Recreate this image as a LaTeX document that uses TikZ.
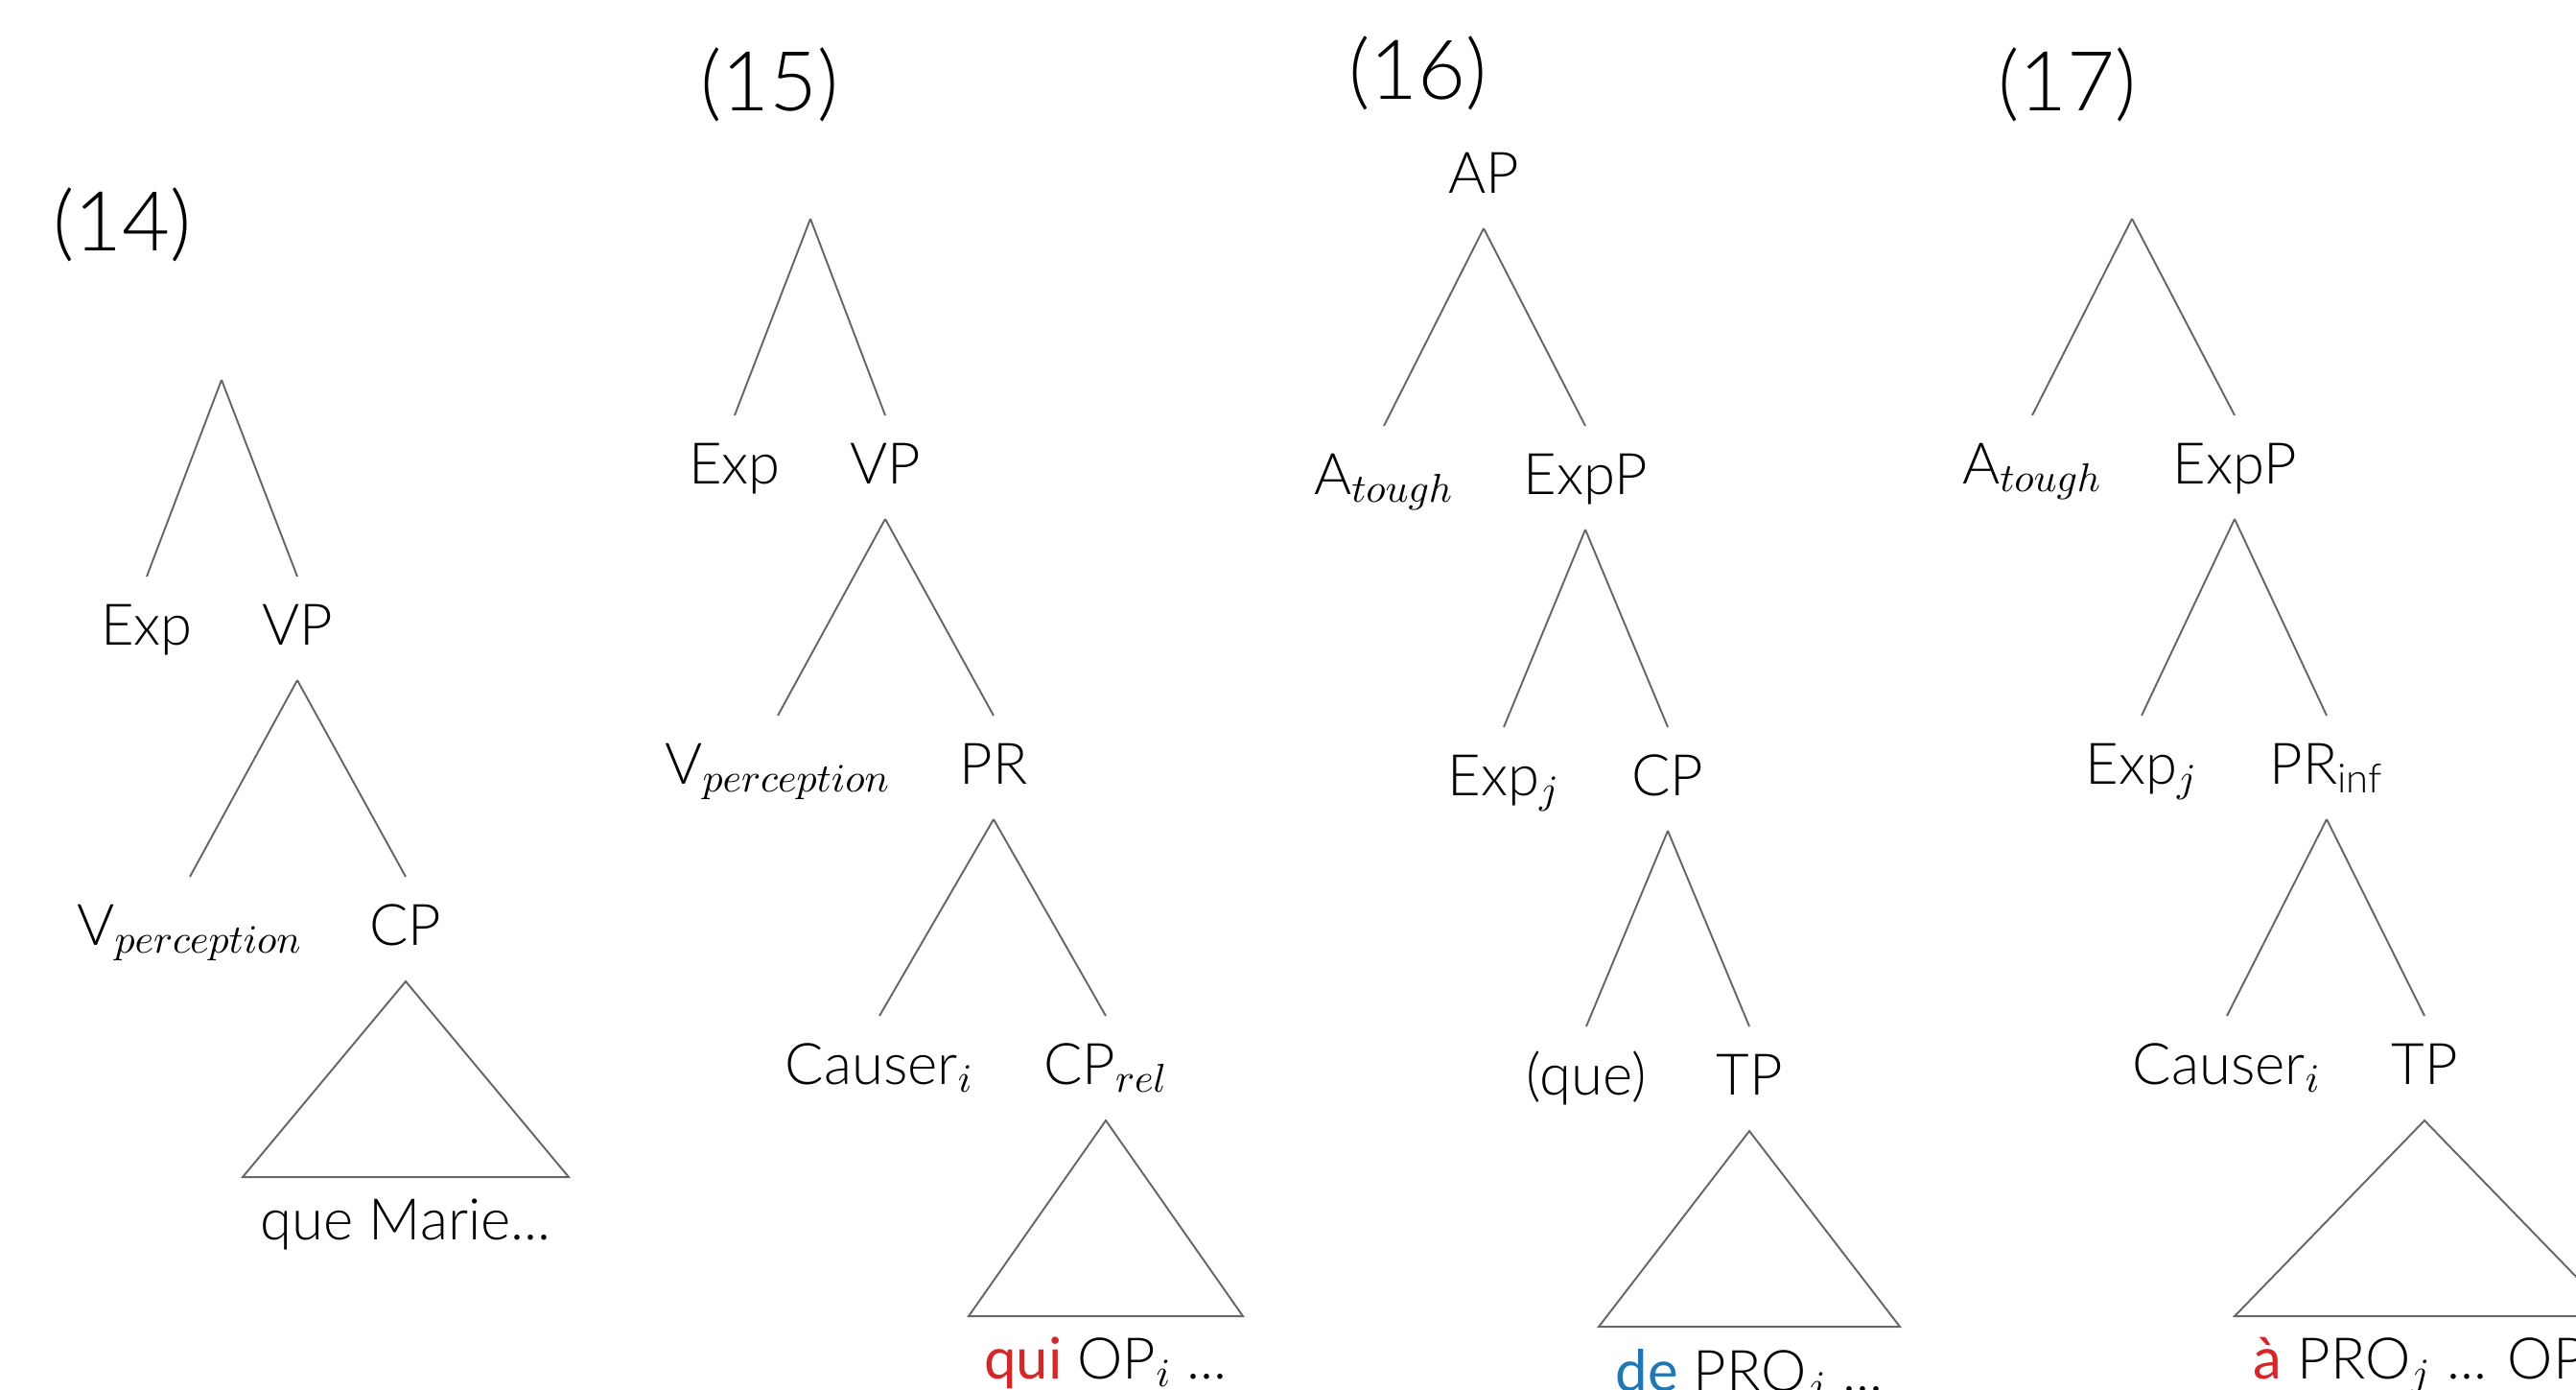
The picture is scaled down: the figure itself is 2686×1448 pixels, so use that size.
\RequirePackage{fix-cm}
\documentclass[tikz,border=0pt]{standalone}
\usepackage{fontspec}
\setmainfont{Lato Light}
\newfontfamily\latoreg{Lato}
\definecolor{redq}{HTML}{D62728}
\definecolor{blued}{HTML}{1F77B4}
\tikzset{
  lbl/.style={anchor=base, inner sep=0pt, font=\fontsize{17}{20}\selectfont},
  leaf/.style={lbl},
  num/.style={anchor=base west, inner sep=0pt, font=\fontsize{24.5}{29}\selectfont},
  edge/.style={draw=black!60, line width=0.55pt},
}
\newcommand\tedge[2]{\draw[edge] ([yshift=-0.37cm]#1.base) -- ([yshift=0.71cm]#2.base);}
\newcommand\redge[2]{\draw[edge] (#1) -- ([yshift=0.71cm]#2.base);}
\newcommand\ttri[2]{\draw[edge] ([yshift=-0.38cm]#1.base) -- ++(-#2,204) -- ++(2*#2,0) -- cycle;}
\begin{document}
\begin{tikzpicture}[x=0.01cm, y=-0.01cm]
\useasboundingbox (0,0) rectangle (2686,1448);
\clip (0,0) rectangle (2686,1448);
% numbers
\node[num] (n14) at (55,261) {(14)};
\node[num] (n15) at (730,115) {(15)};
\node[num] (n16) at (1406,103) {(16)};
\node[num] (n17) at (2083,115) {(17)};
% tree 14
\coordinate (r14) at (231,396);
\node[lbl] (exp14) at (153,672) {Exp};
\node[lbl] (vp14) at (310,672) {VP};
\node[lbl] (v14) at (198,985) {V$_{perception}$};
\node[lbl] (cp14) at (423,985) {CP};
\node[leaf] (t14) at (423,1292) {que Marie...};
\redge{r14}{exp14} \redge{r14}{vp14}
\tedge{vp14}{v14} \tedge{vp14}{cp14}
\ttri{cp14}{170}
% tree 15
\coordinate (r15) at (845,228);
\node[lbl] (exp15) at (766,504) {Exp};
\node[lbl] (vp15) at (923,504) {VP};
\node[lbl] (v15) at (811,817) {V$_{perception}$};
\node[lbl] (pr15) at (1036,817) {PR};
\node[lbl] (ca15) at (917,1130) {Causer$_i$};
\node[lbl] (cp15) at (1153,1130) {CP$_{rel}$};
\node[leaf] (t15) at (1153,1437) {{\latoreg\color{redq}qui} OP$_i$ ...};
\redge{r15}{exp15} \redge{r15}{vp15}
\tedge{vp15}{v15} \tedge{vp15}{pr15}
\tedge{pr15}{ca15} \tedge{pr15}{cp15}
\ttri{cp15}{143}
% tree 16
\node[lbl] (ap16) at (1547,201) {AP};
\node[lbl] (a16) at (1443,515) {A$_{tough}$};
\node[lbl] (ep16) at (1653,515) {ExpP};
\node[lbl] (ej16) at (1568,829) {Exp$_j$};
\node[lbl] (cp16) at (1739,829) {CP};
\node[lbl] (q16) at (1654,1141) {(que)};
\node[lbl] (tp16) at (1824,1141) {TP};
\node[leaf] (t16) at (1824,1450) {{\latoreg\color{blued}de} PRO$_j$ ...};
\tedge{ap16}{a16} \tedge{ap16}{ep16}
\tedge{ep16}{ej16} \tedge{ep16}{cp16}
\tedge{cp16}{q16} \tedge{cp16}{tp16}
\ttri{tp16}{157}
% tree 17
\coordinate (r17) at (2223,228);
\node[lbl] (a17) at (2119,504) {A$_{tough}$};
\node[lbl] (ep17) at (2330,504) {ExpP};
\node[lbl] (ej17) at (2233,817) {Exp$_j$};
\node[lbl] (pr17) at (2426,817) {PR\textsubscript{inf}};
\node[lbl] (ca17) at (2322,1130) {Causer$_i$};
\node[lbl] (tp17) at (2528,1130) {TP};
\node[leaf, anchor=base west] (t17) at (2349,1437) {{\latoreg\color{redq}à} PRO$_j$ ... OP$_i$ ...};
\redge{r17}{a17} \redge{r17}{ep17}
\tedge{ep17}{ej17} \tedge{ep17}{pr17}
\tedge{pr17}{ca17} \tedge{pr17}{tp17}
\ttri{tp17}{198}
\end{tikzpicture}
\end{document}
